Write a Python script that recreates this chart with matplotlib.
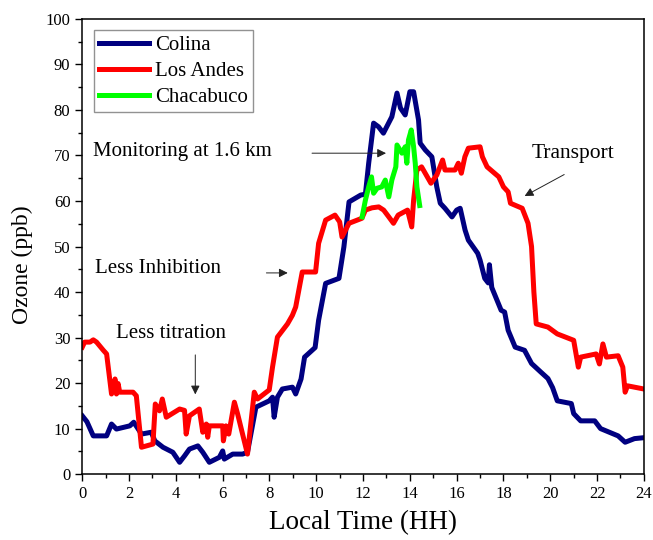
import matplotlib
matplotlib.use('Agg')
import matplotlib.pyplot as plt
from matplotlib.ticker import MultipleLocator

plt.rcParams['font.family'] = ['Liberation Serif', 'DejaVu Serif']

# Colina station
t_colina = [0, 0.2, 0.47, 1.04, 1.25, 1.46, 2.03, 2.2, 2.53, 2.95, 3.1, 3.45, 3.87, 4.16,
            4.37, 4.58, 4.94, 5.15, 5.43, 5.86, 6.0, 6.07, 6.43, 6.85, 7.06, 7.42, 7.99,
            8.13, 8.2, 8.34, 8.55, 8.98, 9.12, 9.35, 9.5, 9.95, 10.1, 10.4, 10.97, 11.18,
            11.4, 11.9, 12.1, 12.24, 12.45, 12.66, 12.87, 13.16, 13.23, 13.45, 13.6, 13.8,
            14.0, 14.16, 14.37, 14.44, 14.66, 14.94, 15.15, 15.3, 15.5, 15.8, 16.0, 16.15,
            16.36, 16.5, 16.9, 17.0, 17.2, 17.35, 17.4, 17.5, 17.9, 18.05, 18.2, 18.5,
            18.9, 19.2, 19.6, 19.9, 20.1, 20.3, 20.9, 21.0, 21.3, 21.9, 22.15, 22.9, 23.2,
            23.6, 24.0]
o3_colina = [12.8, 11.5, 8.4, 8.4, 11.0, 9.9, 10.6, 11.4, 8.8, 9.2, 7.3, 5.9, 4.8, 2.6,
             4.0, 5.5, 6.2, 4.8, 2.6, 3.7, 5.1, 3.3, 4.4, 4.4, 4.8, 14.7, 16.1,
             16.9, 12.5, 16.9, 18.7, 19.1, 17.6, 20.9, 25.7, 27.8, 33.8, 41.9, 43.0, 49.9,
             59.8, 61.3, 61.5, 68.3, 77.1, 76.3, 74.9, 77.8, 78.5, 83.7, 80.4, 78.9,
             84.0, 84.0, 77.8, 72.7, 71.2, 69.7, 63.1, 59.5, 58.4, 56.5, 58.0, 58.4,
             53.6, 51.4, 48.5, 47.0, 43.0, 42.0, 46.0, 41.0, 36.0, 35.6, 31.6, 27.9,
             27.2, 24.3, 22.4, 21.0, 19.0, 16.1, 15.5, 13.3, 11.7, 11.7, 10.0, 8.4, 7.0,
             7.8, 8.0]

# Los Andes station
t_andes = [0, 0.1, 0.33, 0.47, 0.61, 0.9, 1.04, 1.25, 1.4, 1.46, 1.53, 1.6, 2.17, 2.31,
           2.53, 3.02, 3.12, 3.3, 3.42, 3.59, 4.16, 4.37, 4.44, 4.58, 5.0, 5.15, 5.3,
           5.36, 5.43, 6.0, 6.03, 6.14, 6.26, 6.5, 6.64, 7.06, 7.35, 7.49, 7.99, 8.13,
           8.34, 8.77, 8.98, 9.12, 9.4, 9.97, 10.1, 10.4, 10.8, 11.0, 11.1, 11.4, 11.95,
           12.1, 12.38, 12.67, 12.88, 13.1, 13.3, 13.5, 13.9, 14.08, 14.16, 14.3, 14.5,
           14.9, 15.15, 15.4, 15.5, 15.93, 16.07, 16.2, 16.35, 16.5, 17.0, 17.1, 17.3,
           17.8, 18.0, 18.2, 18.3, 18.8, 19.05, 19.2, 19.3, 19.4, 19.9, 20.3, 21.0, 21.2,
           21.3, 21.96, 22.1, 22.25, 22.4, 22.9, 23.1, 23.2, 23.3, 24.0]
o3_andes = [27.9, 29.0, 29.0, 29.5, 29.0, 27.2, 26.4, 17.6, 20.9, 17.6, 19.9, 18.0, 18.0, 17.2,
            5.9, 6.6, 15.4, 13.9, 16.5, 12.5, 14.3, 14.0, 8.8, 12.8, 14.3, 9.2, 11.0,
            8.1, 10.6, 10.6, 7.3, 10.6, 8.8, 15.8, 13.2, 4.4, 18.0, 16.5, 18.5, 23.5,
            30.1, 33.0, 34.9, 36.7, 44.4, 44.4, 50.7, 55.8, 56.9, 55.4, 52.1, 55.1, 56.2,
            58.0, 58.5, 58.7, 58.0, 56.5, 55.1, 56.9, 58.0, 54.3, 60.2, 66.8, 67.5,
            63.9, 65.7, 69.0, 66.8, 66.8, 68.3, 66.1, 69.7, 71.6, 71.9, 69.7, 67.5,
            65.3, 63.1, 62.0, 59.5, 58.4, 55.1, 50.0, 40.0, 33.0, 32.3, 30.8, 29.4, 23.5,
            25.7, 26.4, 24.2, 28.6, 25.7, 26.0, 23.5, 18.0, 19.4, 18.7]

# Chacabuco, measured at 1.6 km
t_chaca = [11.96, 12.1, 12.24, 12.36, 12.45, 12.6, 12.8, 12.95, 13.1, 13.23, 13.4, 13.45,
           13.66, 13.8, 13.87, 13.94, 14.06, 14.16, 14.23, 14.3, 14.42]
o3_chaca = [56.5, 60.2, 63.1, 65.3, 61.7, 62.8, 63.1, 64.6, 60.9, 64.6, 67.5, 72.3,
            70.5, 71.9, 68.3, 73.4, 75.6, 71.9, 68.3, 63.1, 59.0]

fig = plt.figure(figsize=(6.53, 5.40), dpi=100)
ax = fig.add_axes([0.126, 0.122, 0.86, 0.843])

lw = 3.6
ax.plot(t_colina, o3_colina, color='#000080', lw=lw, label='Colina', solid_joinstyle='round')
ax.plot(t_andes, o3_andes, color='#ff0000', lw=lw, label='Los Andes', solid_joinstyle='round')
ax.plot(t_chaca, o3_chaca, color='#00ff00', lw=lw, label='Chacabuco', solid_joinstyle='round')

ax.set_xlim(0, 24)
ax.set_ylim(0, 100)
ax.xaxis.set_major_locator(MultipleLocator(2))
ax.xaxis.set_minor_locator(MultipleLocator(1))
ax.yaxis.set_major_locator(MultipleLocator(10))
ax.yaxis.set_minor_locator(MultipleLocator(5))
ax.tick_params(which='both', direction='out', top=False, right=False, width=1.0,
               labelsize=12)
ax.tick_params(which='major', length=5)
ax.tick_params(which='minor', length=3)
for s in ax.spines.values():
    s.set_linewidth(1.1)

ax.set_xlabel('Local Time (HH)', fontsize=19.5, labelpad=6)
ax.set_ylabel('Ozone (ppb)', fontsize=17)
ax.yaxis.set_label_coords(-0.088, 0.46)

leg = ax.legend(loc='upper left', fontsize=15, frameon=True, fancybox=False,
                edgecolor='#777777', handlelength=2.4, handletextpad=0.3,
                borderpad=0.25, labelspacing=0.3, borderaxespad=0.55)
leg.get_frame().set_linewidth(1.0)

arrow = dict(arrowstyle='-|>', color='#222222', lw=0.7, mutation_scale=13)
ax.annotate('', xy=(13.1, 70.5), xytext=(9.7, 70.5), arrowprops=arrow)
ax.text(0.46, 70.8, 'Monitoring at 1.6 km', fontsize=15, va='center')
ax.annotate('', xy=(8.9, 44.2), xytext=(7.75, 44.2), arrowprops=arrow)
ax.text(0.54, 45.2, 'Less Inhibition', fontsize=15, va='center')
ax.annotate('', xy=(4.83, 16.9), xytext=(4.83, 26.8), arrowprops=arrow)
ax.text(1.46, 30.9, 'Less titration', fontsize=15, va='center')
ax.annotate('', xy=(18.8, 60.8), xytext=(20.7, 66.1), arrowprops=arrow)
ax.text(19.2, 70.5, 'Transport', fontsize=15.5, va='center')

fig.savefig('out.png', dpi=100)
